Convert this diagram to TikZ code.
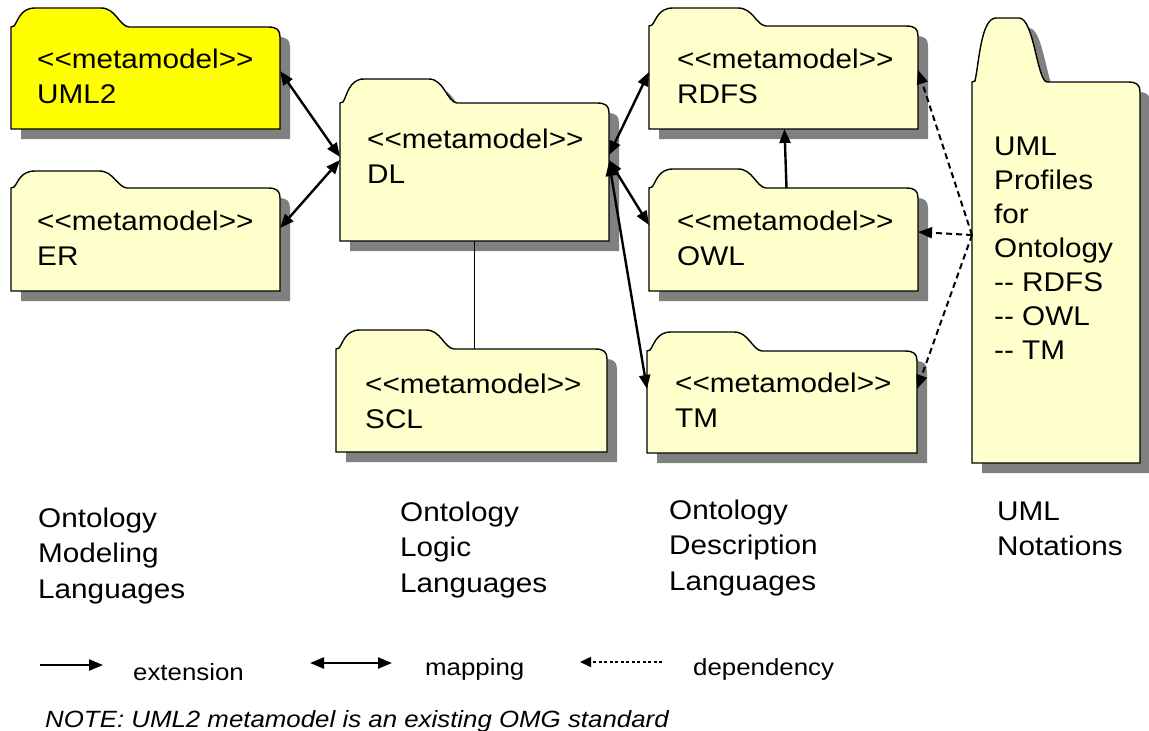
\documentclass[tikz,border=0pt]{standalone}
\usepackage{fontspec}
\setmainfont{Liberation Sans}[FakeStretch=1.1,Ligatures=TeXOff]
\usetikzlibrary{arrows.meta,fit,calc}
\definecolor{pkgfill}{HTML}{FFFFCC}
\definecolor{pkgyellow}{HTML}{FFFF00}
\definecolor{pkgshadow}{HTML}{808080}

% #1 options, #2 L, #3 tab top, #4 body top, #5 R, #6 bottom, #7 tab right
\newcommand\folderpath[7]{%
  \path[#1] (#2,#6) -- (#2,#4) -- ({#2+3},{#4-1})
    .. controls ({#2+7},{#4-0.3*(#4-#3)}) and ({#2+9},#3) .. ({#2+24},#3)
    -- ({#7-24},#3)
    .. controls ({#7-9},#3) and ({#7-6},{#4-1}) .. ({#7+4},#4)
    -- ({#5-12},#4)
    .. controls ({#5-3},#4) and (#5,{#4+3}) .. (#5,{#4+10})
    -- (#5,#6) -- cycle;}

% #1 name, #2..#7 geometry, #8 fill
\newcommand\pkgfolder[8]{%
  \folderpath{fill=pkgshadow, shift={(10,10)}}{#2}{#3}{#4}{#5}{#6}{#7}
  \folderpath{draw=black, line width=1.4pt, fill=#8}{#2}{#3}{#4}{#5}{#6}{#7}
  \node[inner sep=0pt, outer sep=0pt, fit={(#2,#4) (#5,#6)}] (#1) {};
}

\tikzset{
  tip/.tip={Triangle[length=14pt,width=11pt]},
  mapping/.style={line width=2.4pt, tip-tip},
  extension/.style={line width=2.4pt, -tip},
  dependency/.style={line width=2pt, dash pattern=on 6pt off 4pt, -tip},
  legenddep/.style={line width=1.6pt, dash pattern=on 3pt off 2.5pt, -{Triangle[length=11pt,width=10pt]}},
  pkgtext/.style={anchor=north west, inner sep=0pt, align=left, font=\fontsize{27}{35.5}\selectfont},
  notetext/.style={anchor=north west, inner sep=0pt, align=left, font=\fontsize{27}{34}\selectfont},
  legendtext/.style={anchor=base west, inner sep=0pt, font=\fontsize{23.5}{28}\selectfont},
}

\begin{document}
\begin{tikzpicture}[x=1pt,y=-1pt]
\useasboundingbox (0,0) rectangle (1149,731);

\pkgfolder{uml2}{11}{8}{27}{280}{129}{125}{pkgyellow}
\pkgfolder{er}{11}{171}{188}{280}{291}{123}{pkgfill}
\pkgfolder{dl}{340}{79}{103}{609}{241}{453}{pkgfill}
\pkgfolder{scl}{336}{330}{349}{607}{452}{450}{pkgfill}
\pkgfolder{rdfs}{649}{8}{26}{918}{129}{762}{pkgfill}
\pkgfolder{owl}{649}{169}{188}{918}{291}{762}{pkgfill}
\pkgfolder{tm}{647}{332}{351}{917}{453}{758}{pkgfill}
\pkgfolder{umln}{972}{18}{82}{1140}{463}{1043}{pkgfill}

\node[pkgtext] (uml2t) at (37,43.15) {\strut<<metamodel>>\\UML2};
\node[pkgtext] (ert) at (37,205.15) {\strut<<metamodel>>\\ER};
\node[pkgtext] (dlt) at (367,123.15) {\strut<<metamodel>>\\DL};
\node[pkgtext] (sclt) at (365,368.15) {\strut<<metamodel>>\\SCL};
\node[pkgtext] (rdfst) at (677,43.15) {\strut<<metamodel>>\\RDFS};
\node[pkgtext] (owlt) at (677,205.15) {\strut<<metamodel>>\\OWL};
\node[pkgtext] (tmt) at (675,367.15) {\strut<<metamodel>>\\TM};
\node[notetext] (umlnt) at (994,131.2) {\strut UML\\Profiles\\for\\Ontology\\-- RDFS\\-- OWL\\-- TM};

% connectors
\draw[mapping] ([yshift=-44pt]uml2.north east) -- ([yshift=-54pt]dl.north west);
\draw[mapping] ([yshift=-40pt]er.north east) -- ([yshift=-57pt]dl.north west);
\draw[mapping] ([yshift=-52pt]dl.north east) -- ([yshift=-46pt]rdfs.north west);
\draw[mapping] ([yshift=-57pt]dl.north east) -- ([yshift=-37pt]owl.north west);
\draw[mapping] ([yshift=-59pt]dl.north east) -- ([yshift=-38pt]tm.north west);
\draw[extension] ([xshift=3pt]owl.north) -- ([xshift=1pt]rdfs.south);
\draw[line width=1.2pt] (dl.south) -- (dl.south |- scl.north);
\draw[dependency] ([yshift=-153pt]umln.north west) -- ([yshift=-44pt]rdfs.north east);
\draw[dependency] ([yshift=-153pt]umln.north west) -- ([yshift=-44pt]owl.north east);
\draw[dependency] ([yshift=-153pt]umln.north west) -- ([yshift=-38pt]tm.north east);

% column labels
\node[pkgtext] (col1) at (38,502.15) {\strut Ontology\\Modeling\\Languages};
\node[pkgtext] (col2) at (400,496.15) {\strut Ontology\\Logic\\Languages};
\node[pkgtext] (col3) at (669,494.15) {\strut Ontology\\Description\\Languages};
\node[pkgtext] (col4) at (997,495.15) {\strut UML\\Notations};

% legend
\coordinate (ext1) at (40,665);
\coordinate (ext2) at (103,665);
\draw[extension] (ext1) -- (ext2);
\node[legendtext] (extl) at (133,680) {extension};
\coordinate (map1) at (310,663);
\coordinate (map2) at (392,663);
\draw[mapping] (map1) -- (map2);
\node[legendtext] (mapl) at (425,675) {mapping};
\coordinate (dep1) at (662,662);
\coordinate (dep2) at (580,662);
\draw[legenddep] (dep1) -- (dep2);
\node[legendtext] (depl) at (693,675) {dependency};
\node[legendtext, font=\fontsize{23.5}{28}\selectfont\itshape] (note) at (45,727) {NOTE: UML2 metamodel is an existing OMG standard};
\end{tikzpicture}
\end{document}
